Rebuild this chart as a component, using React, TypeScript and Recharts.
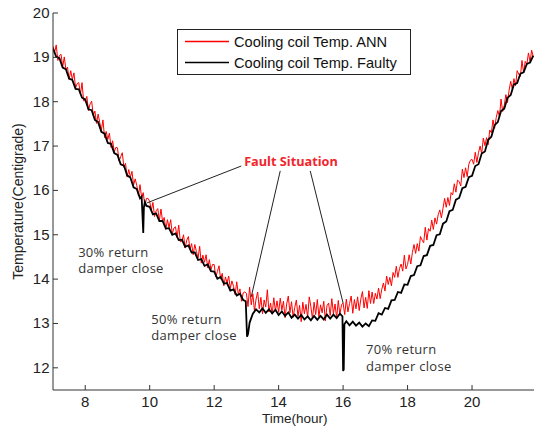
import React from 'react';
import { LineChart, Line, XAxis, YAxis, Legend, ReferenceLine, ReferenceDot, Label } from 'recharts';

// ---- Cooling coil Temp. ANN (red), sampled every 0.05 h ----
const annHours = [
  7.00, 7.05, 7.10, 7.15, 7.20, 7.25, 7.30, 7.35, 7.40, 7.45, 7.50, 7.55, 7.60, 7.65, 7.70, 7.75, 7.80, 7.85, 7.90, 7.95,
  8.00, 8.05, 8.10, 8.15, 8.20, 8.25, 8.30, 8.35, 8.40, 8.45, 8.50, 8.55, 8.60, 8.65, 8.70, 8.75, 8.80, 8.85, 8.90, 8.95,
  9.00, 9.05, 9.10, 9.15, 9.20, 9.25, 9.30, 9.35, 9.40, 9.45, 9.50, 9.55, 9.60, 9.65, 9.70, 9.75, 9.80, 9.85, 9.90, 9.95,
  10.00, 10.05, 10.10, 10.15, 10.20, 10.25, 10.30, 10.35, 10.40, 10.45, 10.50, 10.55, 10.60, 10.65, 10.70, 10.75, 10.80, 10.85, 10.90, 10.95,
  11.00, 11.05, 11.10, 11.15, 11.20, 11.25, 11.30, 11.35, 11.40, 11.45, 11.50, 11.55, 11.60, 11.65, 11.70, 11.75, 11.80, 11.85, 11.90, 11.95,
  12.00, 12.05, 12.10, 12.15, 12.20, 12.25, 12.30, 12.35, 12.40, 12.45, 12.50, 12.55, 12.60, 12.65, 12.70, 12.75, 12.80, 12.85, 12.90, 12.95,
  13.00, 13.05, 13.10, 13.15, 13.20, 13.25, 13.30, 13.35, 13.40, 13.45, 13.50, 13.55, 13.60, 13.65, 13.70, 13.75, 13.80, 13.85, 13.90, 13.95,
  14.00, 14.05, 14.10, 14.15, 14.20, 14.25, 14.30, 14.35, 14.40, 14.45, 14.50, 14.55, 14.60, 14.65, 14.70, 14.75, 14.80, 14.85, 14.90, 14.95,
  15.00, 15.05, 15.10, 15.15, 15.20, 15.25, 15.30, 15.35, 15.40, 15.45, 15.50, 15.55, 15.60, 15.65, 15.70, 15.75, 15.80, 15.85, 15.90, 15.95,
  16.00, 16.05, 16.10, 16.15, 16.20, 16.25, 16.30, 16.35, 16.40, 16.45, 16.50, 16.55, 16.60, 16.65, 16.70, 16.75, 16.80, 16.85, 16.90, 16.95,
  17.00, 17.05, 17.10, 17.15, 17.20, 17.25, 17.30, 17.35, 17.40, 17.45, 17.50, 17.55, 17.60, 17.65, 17.70, 17.75, 17.80, 17.85, 17.90, 17.95,
  18.00, 18.05, 18.10, 18.15, 18.20, 18.25, 18.30, 18.35, 18.40, 18.45, 18.50, 18.55, 18.60, 18.65, 18.70, 18.75, 18.80, 18.85, 18.90, 18.95,
  19.00, 19.05, 19.10, 19.15, 19.20, 19.25, 19.30, 19.35, 19.40, 19.45, 19.50, 19.55, 19.60, 19.65, 19.70, 19.75, 19.80, 19.85, 19.90, 19.95,
  20.00, 20.05, 20.10, 20.15, 20.20, 20.25, 20.30, 20.35, 20.40, 20.45, 20.50, 20.55, 20.60, 20.65, 20.70, 20.75, 20.80, 20.85, 20.90, 20.95,
  21.00, 21.05, 21.10, 21.15, 21.20, 21.25, 21.30, 21.35, 21.40, 21.45, 21.50, 21.55, 21.60, 21.65, 21.70, 21.75, 21.80, 21.85, 21.90,
];
const annTemp = [
  19.25, 19.11, 19.28, 18.93, 19.04, 19.07, 18.78, 19.01, 18.72, 18.78, 18.50, 18.70, 18.50, 18.65, 18.31, 18.41, 18.43, 18.16, 18.43, 18.02,
  18.02, 18.12, 17.80, 17.95, 18.01, 17.69, 17.79, 17.51, 17.72, 17.53, 17.36, 17.59, 17.19, 17.33, 17.15, 17.29, 16.97, 17.12, 16.87, 16.97,
  16.96, 16.66, 16.76, 16.85, 16.52, 16.61, 16.30, 16.47, 16.30, 16.43, 16.12, 16.26, 16.11, 15.88, 16.13, 15.84, 15.95, 15.65, 15.82, 15.82,
  15.75, 15.55, 15.73, 15.41, 15.54, 15.59, 15.32, 15.58, 15.30, 15.39, 15.12, 15.34, 15.16, 15.34, 15.02, 15.15, 15.18, 14.94, 15.22, 14.84,
  14.86, 15.00, 14.70, 14.88, 14.96, 14.68, 14.80, 14.55, 14.78, 14.62, 14.47, 14.74, 14.36, 14.54, 14.38, 14.55, 14.25, 14.44, 14.21, 14.33,
  14.33, 14.05, 14.17, 14.30, 14.00, 14.13, 13.85, 14.05, 13.91, 14.07, 13.79, 13.96, 13.84, 13.65, 13.94, 13.65, 13.78, 13.50, 13.69, 13.71,
  13.68, 13.38, 13.82, 13.42, 13.67, 13.28, 13.55, 13.71, 13.33, 13.59, 13.22, 13.53, 13.37, 13.76, 13.26, 13.46, 13.21, 13.58, 13.28, 13.51,
  13.25, 13.57, 13.30, 13.50, 13.13, 13.44, 13.62, 13.24, 13.49, 13.14, 13.36, 13.53, 13.16, 13.41, 13.04, 13.48, 13.22, 13.43, 13.14, 13.60,
  13.38, 13.10, 13.48, 13.20, 13.54, 13.15, 13.42, 13.24, 13.50, 13.06, 13.40, 13.46, 13.18, 13.56, 13.22, 13.44, 13.12, 13.52, 13.20, 13.42,
  13.46, 13.20, 13.55, 13.26, 13.45, 13.62, 13.23, 13.54, 13.33, 13.60, 13.29, 13.55, 13.72, 13.35, 13.59, 13.34, 13.74, 13.45, 13.71, 13.45,
  13.68, 13.55, 13.80, 13.56, 13.77, 13.91, 13.73, 14.07, 13.88, 14.04, 13.85, 14.15, 14.04, 14.29, 14.04, 14.24, 14.34, 14.18, 14.54, 14.23,
  14.33, 14.55, 14.34, 14.60, 14.78, 14.58, 14.80, 14.63, 14.96, 14.88, 14.82, 15.17, 14.88, 15.14, 15.08, 15.33, 15.12, 15.38, 15.24, 15.45,
  15.56, 15.38, 15.60, 15.82, 15.62, 15.84, 15.66, 15.95, 15.90, 16.15, 15.96, 16.23, 16.20, 16.10, 16.48, 16.29, 16.51, 16.31, 16.59, 16.68,
  16.70, 16.59, 16.86, 16.63, 16.85, 17.00, 16.83, 17.18, 17.01, 17.19, 17.03, 17.36, 17.30, 17.59, 17.40, 17.64, 17.80, 17.66, 18.06, 17.78,
  17.92, 18.16, 17.98, 18.26, 18.46, 18.28, 18.52, 18.36, 18.70, 18.62, 18.57, 18.93, 18.65, 18.91, 18.84, 19.10, 18.90, 19.16, 19.01,
];

// ---- Cooling coil Temp. Faulty (black) ----
const faultyHours = [
  7.0, 7.1, 7.2, 7.3, 7.4, 7.5, 7.6, 7.7, 7.8, 7.9,
  8.0, 8.1, 8.2, 8.3, 8.4, 8.5, 8.6, 8.7, 8.8, 8.9,
  9.0, 9.1, 9.2, 9.3, 9.4, 9.5, 9.6, 9.7, 9.75, 9.8, 9.82, 9.85, 9.9,
  10.0, 10.1, 10.2, 10.3, 10.4, 10.5, 10.6, 10.7, 10.8, 10.9,
  11.0, 11.1, 11.2, 11.3, 11.4, 11.5, 11.6, 11.7, 11.8, 11.9,
  12.0, 12.1, 12.2, 12.3, 12.4, 12.5, 12.6, 12.7, 12.8, 12.9, 12.98,
  13.02, 13.05, 13.1, 13.2, 13.3, 13.4, 13.5, 13.6, 13.7, 13.8, 13.9,
  14.0, 14.1, 14.2, 14.3, 14.4, 14.5, 14.6, 14.7, 14.8, 14.9,
  15.0, 15.1, 15.2, 15.3, 15.4, 15.5, 15.6, 15.7, 15.8, 15.9, 15.98,
  16.0, 16.02, 16.04, 16.1, 16.2, 16.3, 16.4, 16.5, 16.6, 16.7, 16.8, 16.9,
  17.0, 17.1, 17.2, 17.3, 17.4, 17.5, 17.6, 17.7, 17.8, 17.9,
  18.0, 18.1, 18.2, 18.3, 18.4, 18.5, 18.6, 18.7, 18.8, 18.9,
  19.0, 19.1, 19.2, 19.3, 19.4, 19.5, 19.6, 19.7, 19.8, 19.9,
  20.0, 20.1, 20.2, 20.3, 20.4, 20.5, 20.6, 20.7, 20.8, 20.9,
  21.0, 21.1, 21.2, 21.3, 21.4, 21.5, 21.6, 21.7, 21.8, 21.9,
];
const faultyTemp = [
  19.20, 19.01, 18.98, 18.77, 18.73, 18.52, 18.49, 18.29, 18.28, 18.09,
  18.05, 17.83, 17.81, 17.59, 17.54, 17.32, 17.28, 17.07, 17.05, 16.84,
  16.80, 16.59, 16.56, 16.34, 16.29, 16.07, 16.03, 15.82, 15.86, 15.04, 15.62, 15.74, 15.65,
  15.63, 15.46, 15.48, 15.31, 15.31, 15.14, 15.15, 15.00, 15.03, 14.88,
  14.89, 14.73, 14.76, 14.60, 14.60, 14.43, 14.45, 14.30, 14.33, 14.18,
  14.17, 14.01, 14.05, 13.90, 13.91, 13.74, 13.77, 13.63, 13.67, 13.53, 13.50,
  12.70, 12.76, 13.02, 13.22, 13.32, 13.25, 13.34, 13.24, 13.32, 13.23, 13.31,
  13.19, 13.27, 13.17, 13.25, 13.13, 13.20, 13.11, 13.19, 13.09, 13.16,
  13.07, 13.17, 13.08, 13.17, 13.09, 13.20, 13.11, 13.20, 13.12, 13.22, 13.16,
  11.93, 11.96, 12.98, 13.05, 12.96, 13.04, 12.95, 13.02, 12.93, 13.00, 12.94, 13.07,
  13.06, 13.23, 13.20, 13.35, 13.33, 13.52, 13.53, 13.71, 13.69, 13.88,
  13.87, 14.07, 14.09, 14.29, 14.31, 14.52, 14.54, 14.75, 14.77, 14.99,
  15.01, 15.25, 15.30, 15.53, 15.56, 15.79, 15.83, 16.05, 16.08, 16.30,
  16.33, 16.55, 16.59, 16.83, 16.88, 17.14, 17.21, 17.47, 17.54, 17.79,
  17.84, 18.09, 18.15, 18.39, 18.42, 18.63, 18.66, 18.85, 18.88, 19.04,
];

const xTicks = [8, 10, 12, 14, 16, 18, 20];
const yTicks = [12, 13, 14, 15, 16, 17, 18, 19, 20];
const seriesNames = ['Cooling coil Temp. ANN', 'Cooling coil Temp. Faulty'];
const seriesColors = ['#ff0000', '#000000'];

// annotation pointers: [hour, temp] -> [hour, temp]
const pointerLines = [
  { from: [12.84, 16.55], to: [9.92, 15.72] },
  { from: [14.05, 16.44], to: [13.15, 13.6] },
  { from: [14.98, 16.44], to: [16.0, 13.46] },
];

const notes = [
  { at: [12.93, 16.56], lines: ['Fault Situation'], red: true },
  { at: [7.78, 14.5], lines: ['30% return', 'damper close'], red: false },
  { at: [10.05, 12.99], lines: ['50% return', 'damper close'], red: false },
  { at: [16.71, 12.31], lines: ['70% return', 'damper close'], red: false },
];

const annData = annHours.map((h, i) => ({ hour: h, temp: annTemp[i] }));
const faultyData = faultyHours.map((h, i) => ({ hour: h, temp: faultyTemp[i] }));

const AX = '#333';
const TICK_FONT = "'Liberation Sans', Arial, sans-serif";

const BottomTick = (props: any) => {
  const { x, y, payload } = props;
  return (
    <g>
      <line x1={x} y1={y} x2={x} y2={y - 5} stroke={AX} />
      <text x={x} y={y + 17} textAnchor="middle" fontSize={15} fontFamily={TICK_FONT} fill="#222">
        {payload.value}
      </text>
    </g>
  );
};
const TopTick = (props: any) => {
  const { x, y } = props;
  return <line x1={x} y1={y} x2={x} y2={y + 5} stroke={AX} />;
};
const LeftTick = (props: any) => {
  const { x, y, payload } = props;
  return (
    <g>
      <line x1={x} y1={y} x2={x + 5} y2={y} stroke={AX} />
      <text x={x - 3.5} y={y + 5} textAnchor="end" fontSize={15} fontFamily={TICK_FONT} fill="#222">
        {payload.value}
      </text>
    </g>
  );
};
const RightTick = (props: any) => {
  const { x, y } = props;
  return <line x1={x} y1={y} x2={x - 5} y2={y} stroke={AX} />;
};

const YLabel = (props: any) => {
  const vb = props.viewBox || { x: 0, y: 13, width: 53, height: 377 };
  const cx = vb.x + 18;
  const cy = vb.y + vb.height / 2;
  return (
    <text x={cx} y={cy} dy={5} transform={`rotate(-90 ${cx} ${cy})`} textAnchor="middle"
      fontSize={14} fontFamily={TICK_FONT} fill="#222">
      Temperature(Centigrade)
    </text>
  );
};
const XLabel = (props: any) => {
  const vb = props.viewBox || { x: 53, y: 390, width: 483, height: 40 };
  return (
    <text x={vb.x + vb.width / 2} y={vb.y + 33} textAnchor="middle" fontSize={13.5} fontFamily={TICK_FONT} fill="#222">
      Time(hour)
    </text>
  );
};

const NoteText = ({ x, y, lines, red }: any) => (
  <text x={x} y={y} fontFamily="'Open Sans', 'Noto Sans', sans-serif" fontSize={red ? 12.7 : 13}
    letterSpacing={red ? 0 : 0.3} fontWeight={red ? 700 : 400} fill={red ? '#f2242c' : '#333'}>
    {lines.map((l: string, i: number) => (
      <tspan key={i} x={x} dy={i === 0 ? 0 : 16.5}>{l}</tspan>
    ))}
  </text>
);

const LegendBox = () => (
  <svg width={235} height={47} style={{ display: 'block' }}>
    <rect x={0.5} y={0.5} width={233} height={45} fill="#fff" stroke="#222" />
    {seriesNames.map((n, i) => (
      <g key={n}>
        <line x1={8} x2={52} y1={12.5 + i * 21} y2={12.5 + i * 21} stroke={seriesColors[i]} strokeWidth={1.5} />
        <text x={57} y={17.5 + i * 21} fontSize={14.6} fontFamily={TICK_FONT} fill="#111">{n}</text>
      </g>
    ))}
  </svg>
);

export default function App() {
  return (
    <div style={{ position: 'absolute', left: 0, top: 0, width: 534, height: 430, overflow: 'hidden', background: '#fff' }}>
      <LineChart width={540} height={430} margin={{ top: 13, right: 3.5, bottom: 0, left: 0 }}>
        <XAxis dataKey="hour" type="number" domain={[7, 22]} ticks={xTicks} interval={0}
          allowDataOverflow height={40} tickSize={0} tickMargin={0} tickLine={false}
          axisLine={{ stroke: AX }} tick={<BottomTick />}>
          <Label content={<XLabel />} />
        </XAxis>
        <XAxis xAxisId="top" orientation="top" dataKey="hour" type="number" domain={[7, 22]} ticks={xTicks}
          interval={0} allowDataOverflow height={0} tickSize={0} tickMargin={0} tickLine={false}
          axisLine={{ stroke: AX }} tick={<TopTick />} />
        <YAxis type="number" domain={[11.5, 20]} ticks={yTicks} interval={0} allowDataOverflow width={53}
          tickSize={0} tickMargin={0} tickLine={false} axisLine={{ stroke: AX }} tick={<LeftTick />}>
          <Label content={<YLabel />} />
        </YAxis>
        <YAxis yAxisId="right" orientation="right" type="number" domain={[11.5, 20]} ticks={yTicks} interval={0}
          allowDataOverflow width={0} tickSize={0} tickMargin={0} tickLine={false}
          axisLine={{ stroke: AX }} tick={<RightTick />} />
        <Line data={annData} type="linear" dataKey="temp" name={seriesNames[0]} stroke={seriesColors[0]} strokeWidth={1}
          dot={false} activeDot={false} isAnimationActive={false} />
        <Line data={faultyData} type="linear" dataKey="temp" name={seriesNames[1]} stroke={seriesColors[1]} strokeWidth={1.8}
          dot={false} activeDot={false} isAnimationActive={false} />
        {pointerLines.map((p, i) => (
          <ReferenceLine key={'pl' + i} segment={[{ x: p.from[0], y: p.from[1] }, { x: p.to[0], y: p.to[1] }]}
            stroke="#222" strokeWidth={1} ifOverflow="visible" />
        ))}
        {notes.map((n, i) => (
          <ReferenceDot key={'nt' + i} x={n.at[0]} y={n.at[1]} r={0} fill="none" stroke="none" ifOverflow="visible"
            label={{ content: (p: any) => <NoteText x={p.viewBox ? p.viewBox.x : 0} y={p.viewBox ? p.viewBox.y : 0} lines={n.lines} red={n.red} /> }} />
        ))}
        <Legend layout="horizontal" verticalAlign="middle" align="center" content={<LegendBox />}
          wrapperStyle={{ left: 177, top: 29, width: 235, height: 47 }} />
      </LineChart>
    </div>
  );
}
